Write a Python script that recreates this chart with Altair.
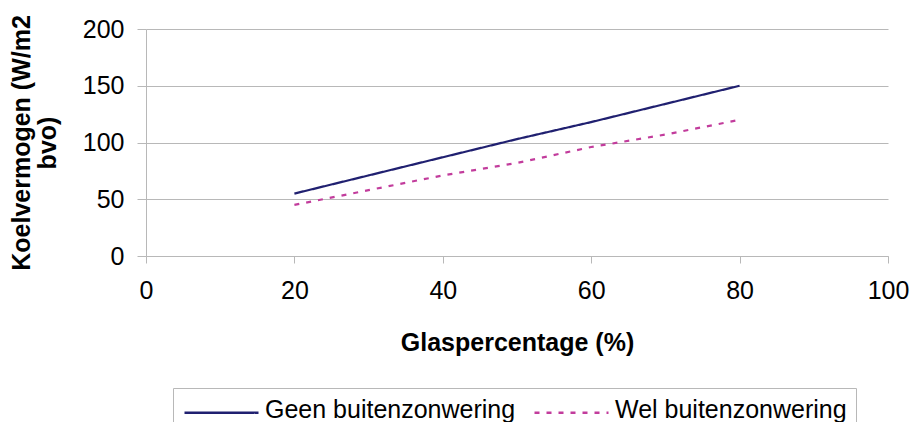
import altair as alt
import pandas as pd

glas = [20, 30, 40, 50, 60, 70, 80]
geen = [55, 71, 87, 103, 118, 134, 150]
wel = [45, 58, 71, 82, 96, 107, 120]
series = ["Geen buitenzonwering", "Wel buitenzonwering"]

rows = []
for x, a, b in zip(glas, geen, wel):
    rows.append({"glas": x, "val": a, "serie": series[0]})
    rows.append({"glas": x, "val": b, "serie": series[1]})
df = pd.DataFrame(rows)

FONT = "Liberation Sans"
GRID = "#b8b8b8"

chart = alt.Chart(df).mark_line(strokeWidth=2.2).encode(
    x=alt.X("glas:Q", scale=alt.Scale(domain=[0, 100], nice=False),
            axis=alt.Axis(values=[0, 20, 40, 60, 80, 100], title="Glaspercentage (%)",
                          grid=False, tickSize=7, labelPadding=15, titlePadding=27,
                          labelFlush=False, domainColor=GRID, tickColor=GRID)),
    y=alt.Y("val:Q", scale=alt.Scale(domain=[0, 200], nice=False),
            axis=alt.Axis(values=[0, 50, 100, 150, 200],
                          title=["Koelvermogen (W/m2", "bvo)"],
                          grid=True, gridColor=GRID, tickSize=9, labelPadding=13,
                          titlePadding=22, titleLineHeight=26,
                          domainColor=GRID, tickColor=GRID)),
    color=alt.Color("serie:N", scale=alt.Scale(domain=series, range=["#202070", "#c23c9c"]),
                    legend=alt.Legend(title=None, orient="none", legendX=27, legendY=359,
                                      direction="horizontal", columns=2,
                                      symbolType="M-1,0.3H6.4", symbolSize=400,
                                      symbolStrokeWidth=2.4, labelOffset=58,
                                      columnPadding=13, padding=9, strokeColor=GRID,
                                      labelFontSize=25, labelFont=FONT, labelColor="#000",
                                      labelLimit=400)),
    strokeDash=alt.StrokeDash("serie:N", scale=alt.Scale(domain=series, range=[[1, 0], [5, 7]]),
                              legend=None),
).properties(
    width=742, height=227,
    autosize=alt.AutoSizeParams(type="none"),
    padding={"left": 138, "top": 21, "right": 22, "bottom": 166},
).configure_axis(
    labelFont=FONT, titleFont=FONT, labelFontSize=25, titleFontSize=25,
    labelColor="#000", titleColor="#000", titleFontWeight="bold",
).configure_view(stroke=None)

chart.save("out.html", embed_options={"renderer": "svg", "actions": False})
